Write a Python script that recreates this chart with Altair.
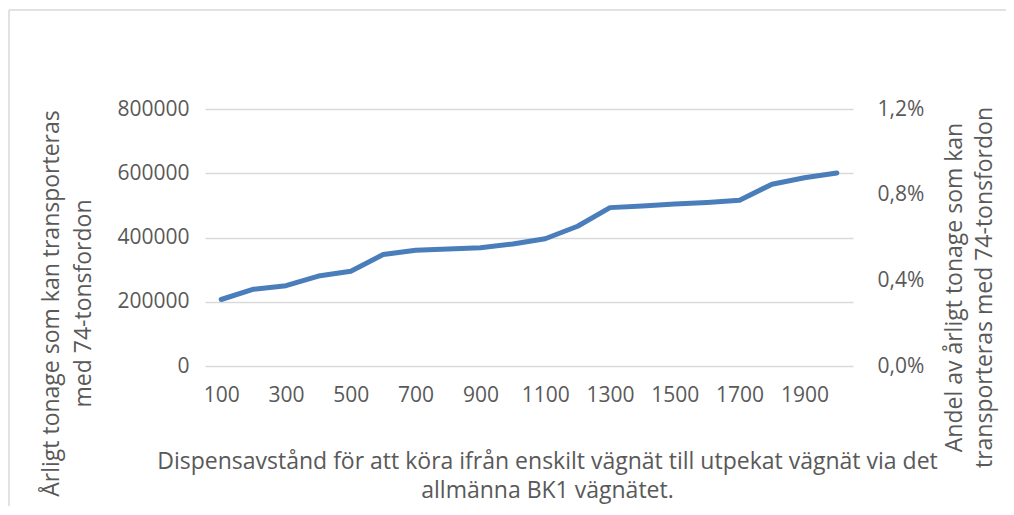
import altair as alt
import pandas as pd

distance = [100, 200, 300, 400, 500, 600, 700, 800, 900, 1000,
            1100, 1200, 1300, 1400, 1500, 1600, 1700, 1800, 1900, 2000]
tonnage = [207000, 239000, 250000, 280000, 295000, 347000, 360000, 364000, 368000, 380000,
           396000, 435000, 493000, 498000, 504000, 509000, 516000, 566000, 586000, 601000]
left_ticks = [0, 200000, 400000, 600000, 800000]
right_ticks = [0, 0.004, 0.008, 0.012]
x_label_values = [100, 300, 500, 700, 900, 1100, 1300, 1500, 1700, 1900]

df = pd.DataFrame({"dist": distance, "ton": tonnage})
rt = pd.DataFrame({"share": right_ticks})

FONT = "Open Sans"
GRAY = "#595959"
LAB = 21
TIT = 23

x_enc = alt.X(
    "dist:O",
    scale=alt.Scale(type="point", padding=0.5),
    sort=distance,
    axis=alt.Axis(
        values=x_label_values, labelAngle=0, ticks=False, domain=False, grid=False,
        labelPadding=18, labelFont=FONT, labelFontSize=LAB, labelColor=GRAY,
        title=["Dispensavstånd för att köra ifrån enskilt vägnät till utpekat vägnät via det",
               "allmänna BK1 vägnätet."],
        titleFont=FONT, titleFontSize=TIT, titleFontWeight="normal", titleColor=GRAY,
        titleLineHeight=29, titleX=342, titleY=84, titleBaseline="top", titleAlign="center",
    ),
)

line = alt.Chart(df).mark_line(color="#4a7ebb", strokeWidth=5, strokeCap="round", strokeJoin="round").encode(
    x=x_enc,
    y=alt.Y(
        "ton:Q",
        scale=alt.Scale(domain=[0, 800000], nice=False, zero=True),
        axis=alt.Axis(
            values=left_ticks, format="d", ticks=False, domain=False,
            grid=True, gridColor="#d9d9d9", gridWidth=1.5,
            labelPadding=16, labelFont=FONT, labelFontSize=LAB, labelColor=GRAY,
            title=["Årligt tonage som kan transporteras", "med 74-tonsfordon"],
            titleFont=FONT, titleFontSize=TIT, titleFontWeight="normal", titleColor=GRAY,
            titleLineHeight=32, titleAngle=270, titleBaseline="top", titleAlign="center",
            titleX=-165, titleY=194,
        ),
    ),
)

right = alt.Chart(rt).mark_point(opacity=0).encode(
    y=alt.Y(
        "share:Q",
        scale=alt.Scale(domain=[0, 0.012], nice=False),
        axis=alt.Axis(
            orient="right", values=right_ticks, ticks=False, domain=False, grid=False,
            labelExpr="replace(format(datum.value, '.1%'), '.', ',')",
            labelPadding=24, labelFont=FONT, labelFontSize=LAB, labelColor=GRAY,
            title=["Andel av årligt tonage som kan", "transporteras med 74-tonsfordon"],
            titleFont=FONT, titleFontSize=TIT, titleFontWeight="normal", titleColor=GRAY,
            titleLineHeight=30, titleAngle=270, titleBaseline="top", titleAlign="center",
            titleX=90, titleY=178,
        ),
    ),
)

one = alt.Data(values=[{"a": 1}])
frame_top = alt.Chart(one).mark_rule(color="#d9d9d9", strokeWidth=1.5).encode(
    x=alt.value(-196), x2=alt.value(900), y=alt.value(-99)
)
frame_left = alt.Chart(one).mark_rule(color="#d9d9d9", strokeWidth=1.5).encode(
    x=alt.value(-196), y=alt.value(-99), y2=alt.value(500)
)

chart = alt.layer(frame_top, frame_left, line, right).resolve_scale(y="independent").properties(
    width=648, height=257,
    padding={"left": 197, "top": 101, "right": 153, "bottom": 140},
    autosize=alt.AutoSizeParams(type="none"),
    background="white",
).configure_view(stroke=None)

chart.save("out.html", embed_options={"renderer": "svg", "actions": False})
